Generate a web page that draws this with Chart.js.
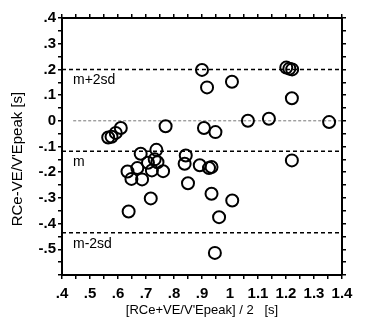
<!DOCTYPE html>
<html>
<head>
<meta charset="utf-8">
<script src="https://cdn.jsdelivr.net/npm/chart.js@4"></script>
<style>
  html, body { margin: 0; padding: 0; background: #fff; }
  #wrap { width: 365px; height: 321px; }
</style>
</head>
<body>
<div id="wrap"><canvas id="chart"></canvas></div>
<script>
// Bland-Altman points: mean (x) vs difference (y)
const xVals = [0.900, 0.918, 1.007, 1.201, 1.212, 1.222, 1.221, 1.064, 1.139, 1.354,
  0.770, 0.907, 0.948, 0.565, 0.577, 0.592, 0.610,
  0.681, 0.737, 0.731, 0.707, 0.741, 0.669, 0.634, 0.721, 0.761, 0.648, 0.686,
  0.717, 0.638, 0.842, 0.838, 0.892, 0.925, 0.934, 0.850, 0.934, 1.008, 0.961,
  0.946, 1.221];
const yVals = [0.198, 0.130, 0.152, 0.207, 0.203, 0.200, 0.088, 0.000, 0.008, -0.005,
  -0.021, -0.028, -0.044, -0.065, -0.062, -0.047, -0.028,
  -0.128, -0.113, -0.150, -0.163, -0.161, -0.184, -0.197, -0.193, -0.196, -0.226, -0.228,
  -0.302, -0.353, -0.135, -0.167, -0.173, -0.184, -0.180, -0.243, -0.284, -0.310, -0.375,
  -0.514, -0.154];

// mean and limits of agreement
const refValues = [0.2, -0.118, -0.436];
const refLabels = ['m+2sd', 'm', 'm-2sd'];

const xTicks = [0.4, 0.5, 0.6, 0.7, 0.8, 0.9, 1.0, 1.1, 1.2, 1.3, 1.4];
const xTickLabels = ['.4', '.5', '.6', '.7', '.8', '.9', '1', '1.1', '1.2', '1.3', '1.4'];
const yTicks = [0.4, 0.3, 0.2, 0.1, 0, -0.1, -0.2, -0.3, -0.4, -0.5];
const yTickLabels = ['.4', '.3', '.2', '.1', '0', '-.1', '-.2', '-.3', '-.4', '-.5'];

function labelFor(ticks, labels) {
  return v => {
    const i = ticks.findIndex(t => Math.abs(t - v) < 1e-6);
    return i >= 0 ? labels[i] : '';
  };
}

const tickFont = { family: 'Liberation Sans', size: 15, weight: 'bold' };
const gridOpts = { drawOnChartArea: false, tickLength: 4, color: '#000', lineWidth: 1.5 };
const borderOpts = { color: '#000', width: 2 };

const datasets = [{
  type: 'scatter',
  data: xVals.map((x, i) => ({ x: x, y: yVals[i] })),
  pointStyle: 'circle',
  pointRadius: 6,
  borderColor: '#000',
  borderWidth: 2,
  backgroundColor: 'rgba(0,0,0,0)',
  order: 0
}, {
  type: 'line',
  data: [{ x: 0.44, y: 0 }, { x: 1.4, y: 0 }],
  borderColor: '#777',
  borderWidth: 1,
  borderDash: [3, 2],
  pointRadius: 0,
  order: 1
}];
refValues.forEach(v => {
  datasets.push({
    type: 'line',
    data: [{ x: 0.4, y: v }, { x: 1.4, y: v }],
    borderColor: '#000',
    borderWidth: 1.5,
    borderDash: [4, 3],
    pointRadius: 0,
    order: 1
  });
});

// labels under the reference lines + rotated y title
const annot = {
  id: 'annot',
  afterDraw(chart) {
    const { ctx, scales: { x, y } } = chart;
    ctx.save();
    ctx.fillStyle = '#000';
    ctx.font = '14px "Liberation Sans"';
    ctx.textBaseline = 'middle';
    ctx.textAlign = 'left';
    refValues.forEach((v, i) => {
      ctx.fillText(refLabels[i], x.left + 11, y.getPixelForValue(v) + 11);
    });
    ctx.translate(18, 159);
    ctx.rotate(-Math.PI / 2);
    ctx.textAlign = 'center';
    ctx.font = '15px "Liberation Sans"';
    ctx.fillText("RCe-VE/V'Epeak [s]", 0, 0);
    ctx.restore();
  }
};

new Chart(document.getElementById('chart'), {
  type: 'scatter',
  data: { datasets: datasets },
  plugins: [annot],
  options: {
    responsive: true,
    maintainAspectRatio: false,
    animation: false,
    layout: { padding: 0 },
    plugins: { legend: { display: false }, tooltip: { enabled: false } },
    scales: {
      x: {
        type: 'linear', position: 'bottom', min: 0.4, max: 1.4,
        ticks: { stepSize: 0.05, autoSkip: false, maxRotation: 0, padding: 6,
          color: '#000', font: tickFont, callback: labelFor(xTicks, xTickLabels) },
        grid: gridOpts, border: borderOpts,
        title: { display: true, text: "[RCe+VE/V'Epeak] / 2   [s]", color: '#000',
          font: { family: 'Liberation Sans', size: 13 }, padding: { top: 0, bottom: 3 } },
        afterFit: s => { s.height = 46; }
      },
      x2: {
        type: 'linear', axis: 'x', position: 'top', min: 0.4, max: 1.4,
        ticks: { stepSize: 0.05, autoSkip: false, display: false },
        grid: gridOpts, border: borderOpts,
        afterFit: s => { s.height = 18; }
      },
      y: {
        type: 'linear', position: 'left', min: -0.6, max: 0.4,
        ticks: { stepSize: 0.05, autoSkip: false, padding: 2,
          color: '#000', font: tickFont, callback: labelFor(yTicks, yTickLabels) },
        grid: gridOpts, border: borderOpts,
        afterFit: s => { s.width = 62; }
      },
      y2: {
        type: 'linear', axis: 'y', position: 'right', min: -0.6, max: 0.4,
        ticks: { stepSize: 0.05, autoSkip: false, display: false },
        grid: gridOpts, border: borderOpts,
        afterFit: s => { s.width = 23; }
      }
    }
  }
});
</script>
</body>
</html>
